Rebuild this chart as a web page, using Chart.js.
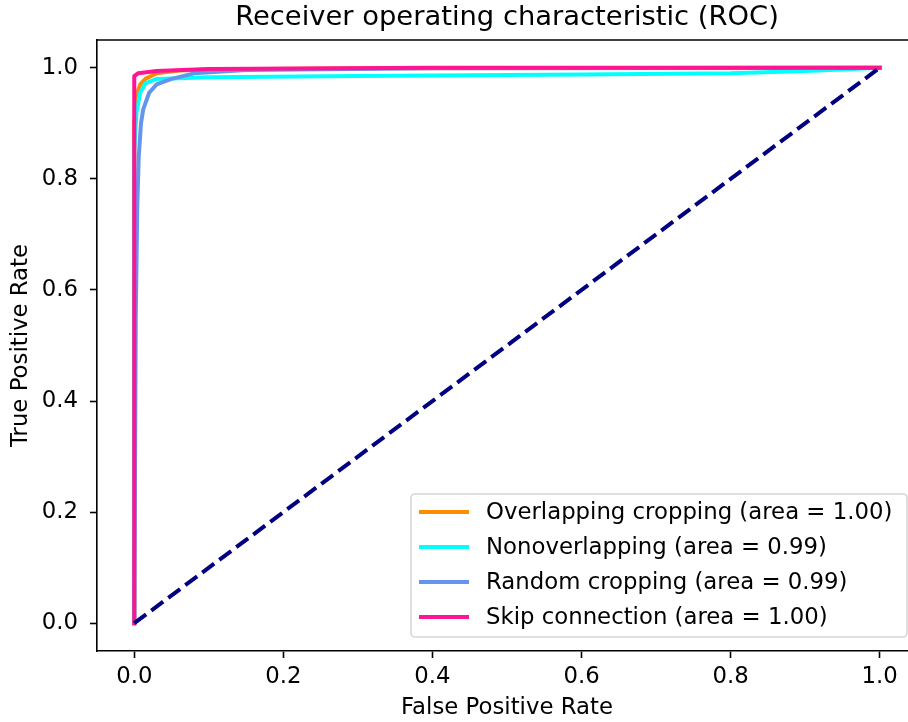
<!DOCTYPE html>
<html>
<head>
<meta charset="utf-8">
<script src="https://cdn.jsdelivr.net/npm/chart.js@4"></script>
<style>
  body { margin: 0; background: #fff; }
  #wrap { width: 908px; height: 722px; overflow: hidden; }
</style>
</head>
<body>
<div id="wrap"><canvas id="roc" width="925" height="722"></canvas></div>
<script>
// ROC curves
const overlapFpr = [0, 0, 0.003, 0.008, 0.015, 0.03, 0.06, 0.1, 0.3, 1];
const overlapTpr = [0, 0.90, 0.95, 0.97, 0.98, 0.99, 0.995, 0.997, 0.999, 1];

const nonoverFpr = [0, 0, 0.003, 0.008, 0.015, 0.03, 0.1, 0.3, 0.6, 0.8, 0.9, 1];
const nonoverTpr = [0, 0.85, 0.92, 0.955, 0.972, 0.98, 0.983, 0.985, 0.988, 0.99, 0.994, 1];

const randomFpr = [0, 0.002, 0.004, 0.006, 0.009, 0.012, 0.02, 0.03, 0.05, 0.08, 0.15, 0.4, 1];
const randomTpr = [0, 0.55, 0.75, 0.84, 0.9, 0.925, 0.955, 0.97, 0.98, 0.99, 0.996, 0.999, 1];

const skipFpr = [0, 0, 0.005, 0.03, 0.1, 0.4, 1];
const skipTpr = [0, 0.985, 0.99, 0.994, 0.998, 1, 1];

const chanceFpr = [0, 1];
const chanceTpr = [0, 1];

const tickValues = [0, 0.2, 0.4, 0.6, 0.8, 1.0];
const labels = [
    'Overlapping cropping (area = 1.00)',
    'Nonoverlapping (area = 0.99)',
    'Random cropping (area = 0.99)',
    'Skip connection (area = 1.00)'
];
const colors = ['#ff8c00', '#00ffff', '#6495ed', '#ff1493'];

const pts = (xs, ys) => xs.map((x, i) => ({ x: x, y: ys[i] }));
const FONT = '"DejaVu Sans", sans-serif';
const FS = 22.8;

const curve = (i, data, order) => ({
    label: labels[i],
    data: data,
    borderColor: colors[i],
    borderWidth: 4,
    borderCapStyle: 'square',
    borderJoinStyle: 'round',
    pointRadius: 0,
    tension: 0,
    order: order
});

// titulo, borde superior y leyenda dibujados a mano (como matplotlib)
const extras = {
    id: 'extras',
    afterDraw(chart) {
        const c = chart.ctx, a = chart.chartArea;
        c.save();
        c.beginPath();
        c.moveTo(a.left, a.top);
        c.lineTo(a.right, a.top);
        c.strokeStyle = '#000';
        c.lineWidth = 1.6;
        c.stroke();

        c.fillStyle = '#000';
        c.font = (FS * 1.2) + 'px ' + FONT;
        c.textAlign = 'center';
        c.textBaseline = 'middle';
        c.fillText('Receiver operating characteristic (ROC)', (a.left + a.right) / 2, 18);

        const bx = a.right - 506, by = a.bottom - 157, bw = 496, bh = 143;
        c.beginPath();
        c.roundRect(bx, by, bw, bh, 4);
        c.fillStyle = 'rgba(255,255,255,0.8)';
        c.fill();
        c.strokeStyle = 'rgba(204,204,204,0.8)';
        c.lineWidth = 1.6;
        c.stroke();

        c.font = FS + 'px ' + FONT;
        c.textAlign = 'left';
        labels.forEach((t, i) => {
            const y = by + 18 + i * 35;
            c.beginPath();
            c.moveTo(bx + 8, y);
            c.lineTo(bx + 58, y);
            c.strokeStyle = colors[i];
            c.lineWidth = 4;
            c.lineCap = 'butt';
            c.stroke();
            c.fillStyle = '#000';
            c.fillText(t, bx + 75, y + 1);
        });
        c.restore();
    }
};

const axisCommon = {
    type: 'linear',
    min: -0.05,
    max: 1.05,
    border: { display: true, color: '#000', width: 1.6 },
    grid: { drawOnChartArea: false, drawTicks: true, tickLength: 7, tickWidth: 1.6, tickColor: '#000' },
    afterBuildTicks: s => { s.ticks = tickValues.map(v => ({ value: v })); }
};

new Chart(document.getElementById('roc'), {
    type: 'line',
    data: {
        datasets: [
            curve(0, pts(overlapFpr, overlapTpr), 5),
            curve(1, pts(nonoverFpr, nonoverTpr), 4),
            curve(2, pts(randomFpr, randomTpr), 3),
            curve(3, pts(skipFpr, skipTpr), 2),
            {
                label: 'chance',
                data: pts(chanceFpr, chanceTpr),
                borderColor: '#000080',
                borderWidth: 4,
                borderDash: [14.8, 6.4],
                borderCapStyle: 'butt',
                pointRadius: 0,
                order: 1
            }
        ]
    },
    options: {
        responsive: false,
        animation: false,
        layout: { padding: { top: 40, left: 0, right: 8, bottom: 0 } },
        plugins: { legend: { display: false }, tooltip: { enabled: false }, title: { display: false } },
        scales: {
            x: Object.assign({}, axisCommon, {
                ticks: { color: '#000', font: { family: FONT, size: FS }, padding: 5, callback: v => v.toFixed(1) },
                title: { display: true, text: 'False Positive Rate', color: '#000', font: { family: FONT, size: FS }, padding: { top: 0, bottom: 0 } },
                afterFit: s => { s.height = 71; }
            }),
            y: Object.assign({}, axisCommon, {
                ticks: { color: '#000', font: { family: FONT, size: FS }, padding: 12, callback: v => v.toFixed(1) },
                title: { display: true, text: 'True Positive Rate', color: '#000', font: { family: FONT, size: FS }, padding: { top: 7, bottom: 0 } },
                afterFit: s => { s.width = 97; }
            })
        }
    },
    plugins: [extras]
});
</script>
</body>
</html>
